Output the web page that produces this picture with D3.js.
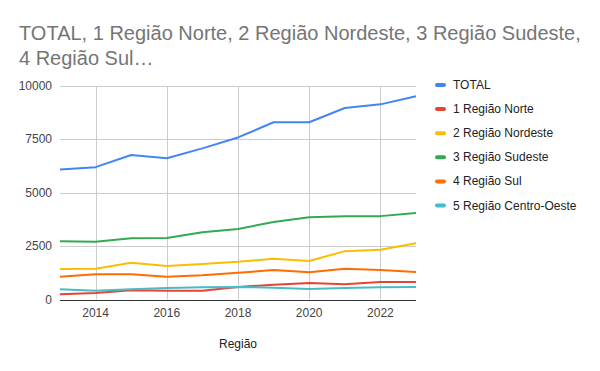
<!DOCTYPE html>
<html>
<head>
<meta charset="utf-8">
<script src="https://cdn.jsdelivr.net/npm/d3@7"></script>
<style>
    body { margin: 0; background: #fff; }
    svg { display: block; font-family: Arial, "Liberation Sans", sans-serif; }
</style>
</head>
<body>
<div id="chart"></div>
<script>
/*
 * Chart data.
 */
var years = [2013, 2014, 2015, 2016, 2017, 2018, 2019, 2020, 2021, 2022, 2023];
var seriesNames = ['TOTAL', '1 Região Norte', '2 Região Nordeste', '3 Região Sudeste', '4 Região Sul', '5 Região Centro-Oeste'];
var total       = [6090, 6200, 6770, 6620, 7080, 7590, 8300, 8300, 8970, 9140, 9520];
var norte       = [250, 305, 430, 415, 415, 585, 693, 772, 711, 819, 819];
var nordeste    = [1428, 1442, 1723, 1568, 1662, 1765, 1910, 1802, 2265, 2330, 2637];
var sudeste     = [2730, 2700, 2870, 2880, 3150, 3305, 3633, 3853, 3900, 3905, 4057];
var sul         = [1067, 1180, 1180, 1067, 1133, 1250, 1381, 1273, 1442, 1381, 1287];
var centroOeste = [477, 412, 477, 538, 571, 585, 553, 491, 538, 571, 585];
var yTicks = [0, 2500, 5000, 7500, 10000];
var xTicks = [2014, 2016, 2018, 2020, 2022];

var seriesValues = [total, norte, nordeste, sudeste, sul, centroOeste];
var colors = ['#4285f4', '#ea4335', '#fbbc04', '#34a853', '#ff6d01', '#46bdc6'];

/*
 * Layout.
 */
var width = 600, height = 371;
var plot = { left: 60, right: 416, top: 86, bottom: 299.5 };

var svg = d3.select('#chart').append('svg')
    .attr('width', width)
    .attr('height', height);

var x = d3.scaleLinear().domain([2013, 2023]).range([plot.left, plot.right]);
var y = d3.scaleLinear().domain([0, 10000]).range([plot.bottom, plot.top]);

/*
 * Title.
 */
var title = svg.append('text')
    .attr('fill', '#757575')
    .style('font-size', '20px');
title.append('tspan').attr('x', 19).attr('y', 40)
    .text('TOTAL, 1 Região Norte, 2 Região Nordeste, 3 Região Sudeste,');
title.append('tspan').attr('x', 19).attr('y', 65)
    .text('4 Região Sul…');

/*
 * Gridlines.
 */
svg.append('g')
    .selectAll('line.h')
    .data(yTicks.filter(d => d > 0))
    .join('line')
    .attr('x1', plot.left).attr('x2', plot.right)
    .attr('y1', d => Math.round(y(d)) + 0.5).attr('y2', d => Math.round(y(d)) + 0.5)
    .attr('stroke', '#cccccc');

svg.append('g')
    .selectAll('line.v')
    .data(xTicks)
    .join('line')
    .attr('x1', d => Math.round(x(d)) + 0.5).attr('x2', d => Math.round(x(d)) + 0.5)
    .attr('y1', plot.top).attr('y2', plot.bottom)
    .attr('stroke', '#cccccc');

/*
 * Axis labels.
 */
svg.append('g')
    .selectAll('text')
    .data(yTicks)
    .join('text')
    .attr('x', 52)
    .attr('y', d => y(d) + 4)
    .attr('text-anchor', 'end')
    .attr('fill', '#444')
    .style('font-size', '12px')
    .text(d => d);

svg.append('g')
    .selectAll('text')
    .data(xTicks)
    .join('text')
    .attr('x', d => x(d))
    .attr('y', 317)
    .attr('text-anchor', 'middle')
    .attr('fill', '#444')
    .style('font-size', '12px')
    .text(d => d);

svg.append('text')
    .attr('x', (plot.left + plot.right) / 2)
    .attr('y', 348)
    .attr('text-anchor', 'middle')
    .attr('fill', '#222')
    .style('font-size', '12px')
    .text('Região');

/*
 * Series lines.
 */
var line = d3.line()
    .x((d, i) => x(years[i]))
    .y(d => y(d));

svg.append('g')
    .selectAll('path')
    .data(seriesValues)
    .join('path')
    .attr('d', line)
    .attr('fill', 'none')
    .attr('stroke', (d, i) => colors[i])
    .attr('stroke-width', 2)
    .attr('stroke-linejoin', 'round');

/*
 * Baseline.
 */
svg.append('line')
    .attr('x1', plot.left).attr('x2', plot.right)
    .attr('y1', Math.round(y(0)) + 0.5).attr('y2', Math.round(y(0)) + 0.5)
    .attr('stroke', '#333');

/*
 * Legend.
 */
var legend = svg.append('g')
    .selectAll('g')
    .data(seriesNames)
    .join('g')
    .attr('transform', (d, i) => 'translate(435,' + (85 + i * 24.1) + ')');

legend.append('rect')
    .attr('x', 0).attr('y', -2)
    .attr('width', 11).attr('height', 4)
    .attr('rx', 2)
    .attr('fill', (d, i) => colors[i]);

legend.append('text')
    .attr('x', 18)
    .attr('y', 4)
    .attr('fill', '#222')
    .style('font-size', '12px')
    .text(d => d);
</script>
</body>
</html>
